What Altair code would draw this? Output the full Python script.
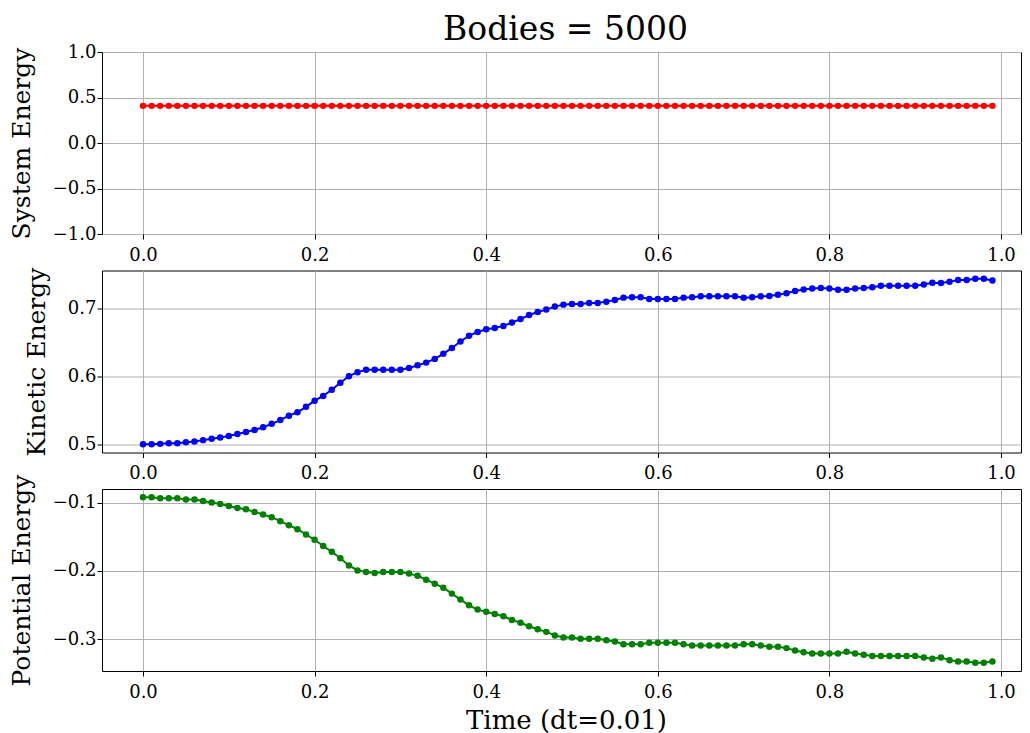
import altair as alt
import pandas as pd

TIME = [0.00, 0.01, 0.02, 0.03, 0.04, 0.05, 0.06, 0.07, 0.08, 0.09,
        0.10, 0.11, 0.12, 0.13, 0.14, 0.15, 0.16, 0.17, 0.18, 0.19,
        0.20, 0.21, 0.22, 0.23, 0.24, 0.25, 0.26, 0.27, 0.28, 0.29,
        0.30, 0.31, 0.32, 0.33, 0.34, 0.35, 0.36, 0.37, 0.38, 0.39,
        0.40, 0.41, 0.42, 0.43, 0.44, 0.45, 0.46, 0.47, 0.48, 0.49,
        0.50, 0.51, 0.52, 0.53, 0.54, 0.55, 0.56, 0.57, 0.58, 0.59,
        0.60, 0.61, 0.62, 0.63, 0.64, 0.65, 0.66, 0.67, 0.68, 0.69,
        0.70, 0.71, 0.72, 0.73, 0.74, 0.75, 0.76, 0.77, 0.78, 0.79,
        0.80, 0.81, 0.82, 0.83, 0.84, 0.85, 0.86, 0.87, 0.88, 0.89,
        0.90, 0.91, 0.92, 0.93, 0.94, 0.95, 0.96, 0.97, 0.98, 0.99]

SYSTEM = [0.408, 0.408, 0.408, 0.408, 0.408, 0.408, 0.408, 0.408, 0.408, 0.408,
          0.408, 0.408, 0.408, 0.408, 0.408, 0.408, 0.408, 0.408, 0.408, 0.408,
          0.408, 0.408, 0.408, 0.408, 0.408, 0.408, 0.408, 0.408, 0.408, 0.408,
          0.408, 0.408, 0.408, 0.408, 0.408, 0.408, 0.408, 0.408, 0.408, 0.408,
          0.408, 0.408, 0.408, 0.408, 0.408, 0.408, 0.408, 0.408, 0.408, 0.408,
          0.408, 0.408, 0.408, 0.408, 0.408, 0.408, 0.408, 0.408, 0.408, 0.408,
          0.408, 0.408, 0.408, 0.408, 0.408, 0.408, 0.408, 0.408, 0.408, 0.408,
          0.408, 0.408, 0.408, 0.408, 0.408, 0.408, 0.408, 0.408, 0.408, 0.408,
          0.408, 0.408, 0.408, 0.408, 0.408, 0.408, 0.408, 0.408, 0.408, 0.408,
          0.408, 0.408, 0.408, 0.408, 0.408, 0.408, 0.408, 0.408, 0.408, 0.408]

KINETIC = [0.500, 0.500, 0.5005, 0.5015, 0.5015, 0.503, 0.504, 0.506, 0.508, 0.510,
           0.512, 0.515, 0.518, 0.521, 0.525, 0.530, 0.5355, 0.542, 0.547, 0.555,
           0.564, 0.571, 0.580, 0.5905, 0.600, 0.606, 0.6095, 0.6095, 0.6095, 0.6095,
           0.6095, 0.612, 0.616, 0.620, 0.6255, 0.633, 0.6416, 0.651, 0.6596, 0.665,
           0.669, 0.671, 0.674, 0.679, 0.684, 0.690, 0.6945, 0.698, 0.7024, 0.7053,
           0.7063, 0.7063, 0.7078, 0.7078, 0.7097, 0.7122, 0.7156, 0.716, 0.716, 0.7136,
           0.7136, 0.7136, 0.7136, 0.7156, 0.716, 0.7175, 0.7175, 0.7175, 0.7175, 0.7175,
           0.7156, 0.716, 0.7175, 0.718, 0.7197, 0.722, 0.7253, 0.7277, 0.729, 0.7297,
           0.729, 0.7273, 0.7273, 0.729, 0.7297, 0.731, 0.733, 0.733, 0.733, 0.733,
           0.733, 0.735, 0.7375, 0.737, 0.739, 0.7414, 0.7414, 0.7433, 0.7433, 0.7409]

POTENTIAL = [-0.0922, -0.0922, -0.0937, -0.0937, -0.0937, -0.0956, -0.0956, -0.0976, -0.100, -0.102,
             -0.105, -0.1078, -0.1097, -0.1136, -0.1175, -0.1214, -0.1272, -0.1331, -0.139, -0.1467,
             -0.1545, -0.1635, -0.172, -0.1815, -0.192, -0.1993, -0.2017, -0.203, -0.2017, -0.2017,
             -0.2017, -0.204, -0.207, -0.213, -0.2187, -0.2246, -0.2333, -0.242, -0.2504, -0.2567,
             -0.260, -0.263, -0.2664, -0.2718, -0.276, -0.281, -0.2854, -0.2893, -0.2945, -0.2976,
             -0.2976, -0.2995, -0.2995, -0.2995, -0.3015, -0.3034, -0.3073, -0.3073, -0.3073, -0.3054,
             -0.3054, -0.3054, -0.3054, -0.3073, -0.3092, -0.3092, -0.3092, -0.3092, -0.3092, -0.3092,
             -0.3073, -0.3073, -0.3092, -0.3112, -0.3112, -0.3131, -0.3165, -0.319, -0.3209, -0.3209,
             -0.3209, -0.3209, -0.3185, -0.3209, -0.3229, -0.3248, -0.3248, -0.3248, -0.3248, -0.3248,
             -0.3248, -0.3268, -0.3287, -0.3268, -0.3307, -0.3326, -0.3326, -0.3345, -0.3345, -0.3326]

X_TICKS = [0.0, 0.2, 0.4, 0.6, 0.8, 1.0]
SYS_TICKS = [-1.0, -0.5, 0.0, 0.5, 1.0]
KIN_TICKS = [0.5, 0.6, 0.7]
POT_TICKS = [-0.3, -0.2, -0.1]

df = pd.DataFrame({"t": TIME, "sys": SYSTEM, "kin": KINETIC, "pot": POTENTIAL})

FONT = "DejaVu Serif"
W, H = 919, 182
XDOM = [-0.0478, 1.0233]


def panel(field, color, ytitle, ydom, yticks, xtitle=None, title=None):
    if xtitle:
        xaxis = alt.Axis(values=X_TICKS, format=".1f", title=xtitle, titleX=464)
    else:
        xaxis = alt.Axis(values=X_TICKS, format=".1f", title=None)
    props = dict(width=W, height=H)
    if title:
        props["title"] = alt.TitleParams(title, font=FONT, fontSize=33, fontWeight="normal",
                                         anchor="middle", frame="group", color="black",
                                         offset=-4, dx=4)
    return alt.Chart(df).mark_line(
        color=color, strokeWidth=2,
        point=alt.OverlayMarkDef(filled=True, size=42, color=color, opacity=1),
    ).encode(
        x=alt.X("t:Q", scale=alt.Scale(domain=XDOM, nice=False, zero=False), axis=xaxis),
        y=alt.Y(f"{field}:Q", scale=alt.Scale(domain=ydom, nice=False, zero=False),
                axis=alt.Axis(values=yticks, format=".1f", title=ytitle)),
    ).properties(**props)


p1 = panel("sys", "#ff0000", "System Energy", [-1.0, 1.0], SYS_TICKS, title="Bodies = 5000")
p2 = panel("kin", "#0000ff", "Kinetic Energy", [0.4878, 0.7555], KIN_TICKS)
p3 = panel("pot", "#008000", "Potential Energy", [-0.3466, -0.0801], POT_TICKS, xtitle="Time (dt=0.01)")

chart = alt.vconcat(p1, p2, p3, spacing=36.5, bounds="flush").properties(
    padding={"left": 0, "top": 5, "right": 0, "bottom": 0}
).configure_view(
    stroke="black", strokeWidth=1
).configure_axis(
    labelFont=FONT, labelFontSize=18, labelColor="black",
    titleFont=FONT, titleFontWeight="normal", titleColor="black",
    grid=True, gridColor="#b0b0b0", gridWidth=1,
    domain=False, tickColor="black", tickSize=5,
).configure_axisX(
    labelPadding=7, titlePadding=6, titleFontSize=26,
).configure_axisY(
    labelPadding=1, titlePadding=18, titleFontSize=25,
)

chart.save("out.html", embed_options={"renderer": "svg", "actions": False})
